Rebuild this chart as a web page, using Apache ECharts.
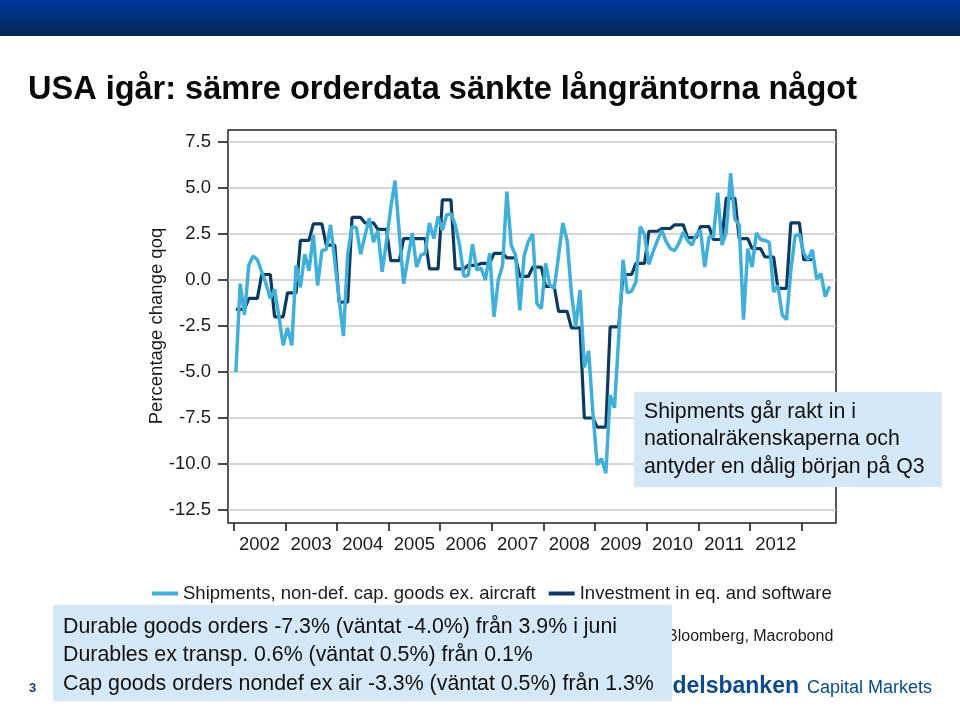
<!DOCTYPE html>
<html><head><meta charset="utf-8">
<script src="https://cdn.jsdelivr.net/npm/echarts@6/dist/echarts.min.js"></script>
<style>html,body{margin:0;padding:0;background:#fff;}#c{width:960px;height:706px;}</style>
</head><body><div id="c"></div>
<script>
// ---- data ----
const startYear = 2002; // first month plotted = Jan 2002
const yearLabels = ['2002','2003','2004','2005','2006','2007','2008','2009','2010','2011','2012'];
const yearTicks = [2002,2003,2004,2005,2006,2007,2008,2009,2010,2011,2012,2013];
const yTickLabels = ['7.5','5.0','2.5','0.0','-2.5','-5.0','-7.5','-10.0','-12.5'];
const seriesNames = ['Shipments, non-def. cap. goods ex. aircraft', 'Investment in eq. and software'];
// monthly, Jan 2002 .. Jul 2013
const shipments = [
 -5.0,-0.2,-1.9, 0.8, 1.3, 1.1, 0.45,-0.2,-1.0,-0.5,-2.0,-3.55,
 -2.6,-3.55, 0.8,-0.4, 1.4, 0.5, 2.45,-0.3, 1.6, 1.65, 3.0, 1.0,
 -1.05,-3.05, 1.4, 2.9, 2.85, 1.4, 2.4, 3.35, 2.05, 2.7, 0.45, 2.1,
  3.9, 5.4, 2.5,-0.2, 1.2, 2.55, 0.7, 1.35, 1.45, 3.1, 2.25, 3.45,
  2.7, 3.55, 3.6, 3.0, 1.9, 0.2, 0.25, 1.95, 0.55, 0.65, 0.0, 1.45,
 -2.0, 0.0, 0.8, 4.8, 1.9, 1.35,-1.65, 1.3, 2.1, 2.5,-1.3,-1.55,
  0.9,-0.3,-0.45, 1.3, 3.1, 2.15,-0.7,-2.55,-0.55,-4.75,-3.85,-7.25,
 -10.05,-9.7,-10.5,-6.25,-6.95,-3.1, 1.1,-0.7,-0.6,-0.1, 2.9, 2.45,
  0.85, 1.55, 2.15, 2.7, 2.1, 1.7, 1.6, 2.0, 2.6, 2.15, 1.9, 2.45,
  2.7, 0.7, 2.35, 2.35, 4.75, 1.9, 2.6, 5.8, 3.3, 3.0,-2.15, 1.7,
  0.7, 2.55, 2.2, 2.15, 2.05,-0.65,-0.3,-1.9,-2.15, 0.5, 2.4, 2.5,
  1.45, 1.1, 1.65, 0.05, 0.35,-0.9,-0.35
];
// quarterly, Q1 2002 .. Q1 2013
const investmentQ = [
 -1.6,-1.0, 0.3,-2.0,
 -0.7, 2.15, 3.05, 1.9,
 -1.2, 3.4, 3.1, 2.75,
  1.05, 2.25, 2.25, 0.6,
  4.35, 0.6, 0.8, 0.9,
  1.45, 1.2, 0.2, 0.7,
 -0.35,-1.7,-2.6,-7.5,
 -8.0,-2.55, 0.3, 0.9,
  2.65, 2.8, 3.0, 2.3,
  2.9, 2.2, 4.45, 2.25,
  1.7, 1.25,-0.45, 3.1,
  1.1
];
const titleText = 'USA igår: sämre orderdata sänkte långräntorna något';
const noteLines = ['Shipments går rakt in i', 'nationalräkenskaperna och', 'antyder en dålig början på Q3'];
const boxLines = ['Durable goods orders -7.3% (väntat -4.0%) från 3.9% i juni',
                  'Durables ex transp. 0.6% (väntat 0.5%) från 0.1%',
                  'Cap goods orders nondef ex air -3.3% (väntat 0.5%) från 1.3%'];
const sourceText = 'Bloomberg, Macrobond';

// ---- build ----
const FONT = '"Liberation Sans", Arial, sans-serif';
const shipData = shipments.map((v, i) => [startYear + (i + 0.5) / 12, v]);
const invData = [];
investmentQ.forEach((v, q) => { for (let k = 0; k < 3; k++) { const m = q * 3 + k; invData.push([startYear + (m + 0.5) / 12, v]); } });

const chart = echarts.init(document.getElementById('c'), null, {renderer: 'canvas'});
const LIGHT = '#40afd9', DARK = '#0d3a5f', BOXC = '#d5e8f8';

const graphics = [
  {type: 'rect', shape: {x: 0, y: 0, width: 960, height: 36}, z: 10,
   style: {fill: new echarts.graphic.LinearGradient(0, 0, 0, 1, [{offset: 0, color: '#0036a0'}, {offset: 0.45, color: '#02337f'}, {offset: 1, color: '#06294c'}])}},
  {type: 'text', left: 28, top: 74, z: 10, style: {text: titleText, font: 'bold 32.5px ' + FONT, fill: '#0a0a0a'}},
  {type: 'text', x: 667, y: 637, z: 10, style: {text: sourceText, font: '16px ' + FONT, fill: '#1a1a1a', verticalAlign: 'middle'}},
  {type: 'text', x: 629, y: 687, z: 10, style: {text: 'Handelsbanken', font: 'bold 23px ' + FONT, fill: '#0c4a8c', verticalAlign: 'middle'}},
  {type: 'text', x: 807, y: 688, z: 10, style: {text: 'Capital Markets', font: '18px ' + FONT, fill: '#0c4a8c', verticalAlign: 'middle'}},
  {type: 'text', x: 29, y: 688, z: 10, style: {text: '3', font: 'bold 13px ' + FONT, fill: '#1f3b6e', verticalAlign: 'middle'}},
  {type: 'rect', shape: {x: 53, y: 605, width: 619, height: 96}, z: 20, style: {fill: BOXC}},
  {type: 'rect', shape: {x: 634, y: 392, width: 308, height: 95}, z: 20, style: {fill: BOXC}}
];
boxLines.forEach((t, k) => graphics.push({type: 'text', x: 63, y: 627 + k * 28.5, z: 21,
  style: {text: t, font: '21.35px ' + FONT, fill: '#111', verticalAlign: 'middle'}}));
noteLines.forEach((t, k) => graphics.push({type: 'text', x: 644, y: 412 + k * 27.5, z: 21,
  style: {text: t, font: '21.3px ' + FONT, fill: '#111', verticalAlign: 'middle'}}));

chart.setOption({
  animation: false,
  backgroundColor: '#fff',
  textStyle: {fontFamily: FONT},
  grid: [
    {left: 228, top: 130, width: 608, height: 393, show: true, borderColor: '#222', borderWidth: 1.5, backgroundColor: 'transparent'},
    {left: 228, top: 142, width: 608, height: 368}
  ],
  xAxis: [
    {gridIndex: 0, type: 'value', show: false, min: 0, max: 1},
    {gridIndex: 1, type: 'value', min: 2001.889, max: 2013.667, offset: 13, position: 'bottom',
     axisLine: {show: false, onZero: false},
     axisTick: {show: true, customValues: yearTicks, length: 8, lineStyle: {color: '#111', width: 1.5}},
     axisLabel: {customValues: yearLabels.map(y => +y + 0.5), formatter: v => String(Math.floor(v)),
                 fontSize: 18.5, color: '#1a1a1a', margin: 12, fontFamily: FONT},
     splitLine: {show: false}}
  ],
  yAxis: [
    {gridIndex: 0, type: 'value', show: false, min: 0, max: 1},
    {gridIndex: 1, type: 'value', min: -12.5, max: 7.5, interval: 2.5,
     axisLine: {show: false},
     axisTick: {show: true, length: 10, lineStyle: {color: '#111', width: 1.5}},
     axisLabel: {formatter: v => yTickLabels.find(s => Math.abs(parseFloat(s) - v) < 1e-6) || v.toFixed(1),
                 fontSize: 18.5, color: '#1a1a1a', margin: 17, fontFamily: FONT},
     splitLine: {show: true, lineStyle: {color: '#c9c9c9', width: 1.5}},
     name: 'Percentage change qoq', nameLocation: 'middle', nameGap: 62, nameMoveOverlap: false,
     nameTextStyle: {fontSize: 18.5, color: '#1a1a1a', fontFamily: FONT}}
  ],
  legend: {
    data: seriesNames, left: 152, top: 584, padding: 0, icon: 'rect', itemWidth: 26, itemHeight: 4, itemGap: 13,
    textStyle: {fontSize: 18.5, color: '#1a1a1a', fontFamily: FONT}
  },
  series: [
    {name: seriesNames[1], type: 'line', xAxisIndex: 1, yAxisIndex: 1, data: invData, showSymbol: false, z: 2,
     color: DARK, lineStyle: {color: DARK, width: 3.2}, itemStyle: {color: DARK}},
    {name: seriesNames[0], type: 'line', xAxisIndex: 1, yAxisIndex: 1, data: shipData, showSymbol: false, z: 3,
     color: LIGHT, lineStyle: {color: LIGHT, width: 3.5}, itemStyle: {color: LIGHT}}
  ],
  graphic: graphics
});
</script></body></html>
